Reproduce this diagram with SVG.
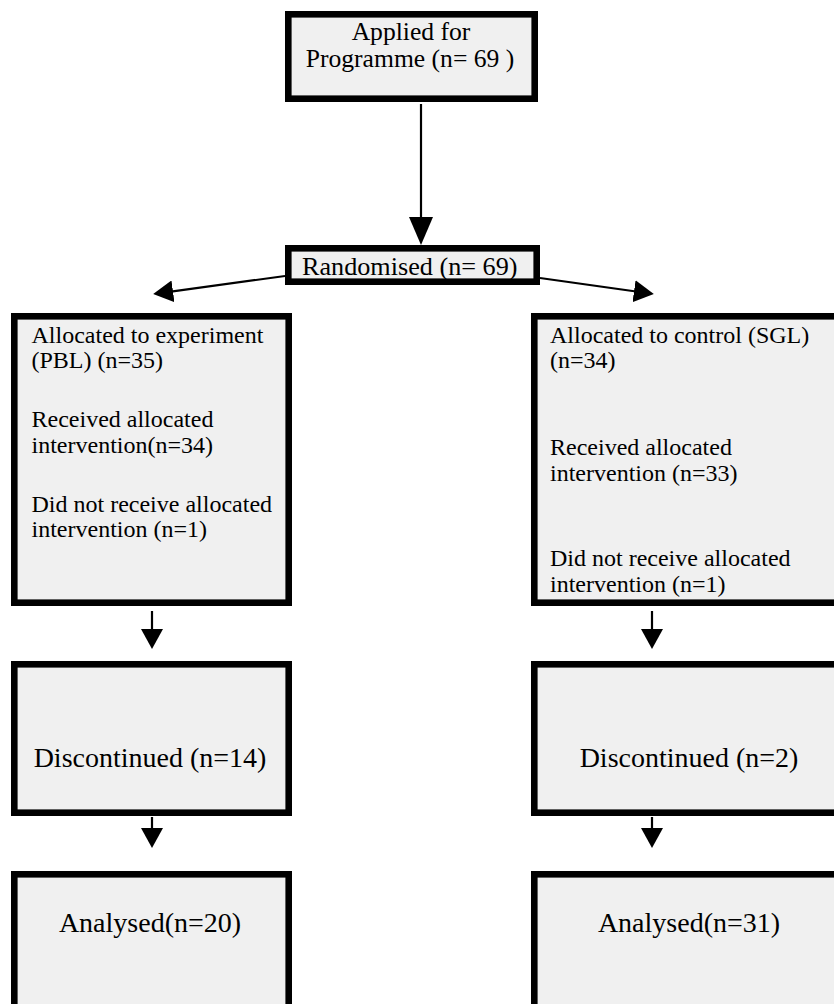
<svg xmlns="http://www.w3.org/2000/svg" width="834" height="1004" viewBox="0 0 834 1004">
  <style>
    .box { fill: #f0f0f0; stroke: #000; stroke-width: 6.6; }
    .link { stroke: #000; stroke-width: 2.2; fill: none; marker-end: url(#head); }
    .t { font-family: "Liberation Serif", "Times New Roman", serif; font-size: 24px; fill: #000; }
    .head { font-size: 25.6px; }
    .big { font-family: "Liberation Serif", "Times New Roman", serif; font-size: 28px; fill: #000; }
    .mid { text-anchor: middle; }
  </style>
  <defs>
    <marker id="head" markerUnits="userSpaceOnUse" markerWidth="22" markerHeight="22" refX="2" refY="11" orient="auto" viewBox="0 0 22 22">
      <path d="M0,0 L20,11 L0,22 Z" fill="#000"/>
    </marker>
    <marker id="headBig" markerUnits="userSpaceOnUse" markerWidth="30" markerHeight="24" refX="2" refY="12" orient="auto" viewBox="0 0 30 24">
      <path d="M0,0 L28,12 L0,24 Z" fill="#000"/>
    </marker>
  </defs>

  <g id="connectors">
    <line x1="421" y1="104" x2="421" y2="219" stroke="#000" stroke-width="2.2" marker-end="url(#headBig)"/>
    <line class="link" x1="285" y1="276" x2="171" y2="291.6"/>
    <line class="link" x1="540" y1="278" x2="636" y2="291.5"/>
    <line class="link" x1="152" y1="611" x2="152" y2="631"/>
    <line class="link" x1="152" y1="817" x2="152" y2="830"/>
    <line class="link" x1="652" y1="611" x2="652" y2="631"/>
    <line class="link" x1="652" y1="817" x2="652" y2="830"/>
  </g>

  <g id="applied">
    <rect class="box" x="288.3" y="14.3" width="246.4" height="84.4"/>
    <text class="t head mid" x="411" y="39.5">Applied for</text>
    <text class="t head mid" x="410" y="66.5">Programme (n= 69 )</text>
  </g>

  <g id="randomised">
    <rect class="box" x="288.3" y="248.3" width="248.4" height="33.4"/>
    <text class="t" x="302" y="274.5" style="font-size:26.2px">Randomised (n= 69)</text>
  </g>

  <g id="experiment">
    <rect class="box" x="14.3" y="316.3" width="274.4" height="286.4"/>
    <text class="t" x="31.5" y="343">Allocated to experiment</text>
    <text class="t" x="31.5" y="367.5">(PBL) (n=35)</text>
    <text class="t" x="31.5" y="427">Received allocated</text>
    <text class="t" x="31.5" y="453">intervention(n=34)</text>
    <text class="t" x="31.5" y="512">Did not receive allocated</text>
    <text class="t" x="31.5" y="537">intervention (n=1)</text>
  </g>

  <g id="control">
    <rect class="box" x="534.3" y="316.3" width="320" height="286.4"/>
    <text class="t" x="550" y="343">Allocated to control (SGL)</text>
    <text class="t" x="550" y="367.5">(n=34)</text>
    <text class="t" x="550" y="455">Received allocated</text>
    <text class="t" x="550" y="480.5">intervention (n=33)</text>
    <text class="t" x="550" y="566">Did not receive allocated</text>
    <text class="t" x="550" y="591.5">intervention (n=1)</text>
  </g>

  <g id="discontinued-experiment">
    <rect class="box" x="14.3" y="664.3" width="274.4" height="148.4"/>
    <text class="big mid" x="150" y="767">Discontinued (n=14)</text>
  </g>

  <g id="discontinued-control">
    <rect class="box" x="534.3" y="664.3" width="320" height="148.4"/>
    <text class="big mid" x="689" y="767">Discontinued (n=2)</text>
  </g>

  <g id="analysed-experiment">
    <rect class="box" x="14.3" y="874.3" width="274.4" height="160"/>
    <text class="big mid" x="150" y="932">Analysed(n=20)</text>
  </g>

  <g id="analysed-control">
    <rect class="box" x="534.3" y="874.3" width="320" height="160"/>
    <text class="big mid" x="689" y="932">Analysed(n=31)</text>
  </g>
</svg>
